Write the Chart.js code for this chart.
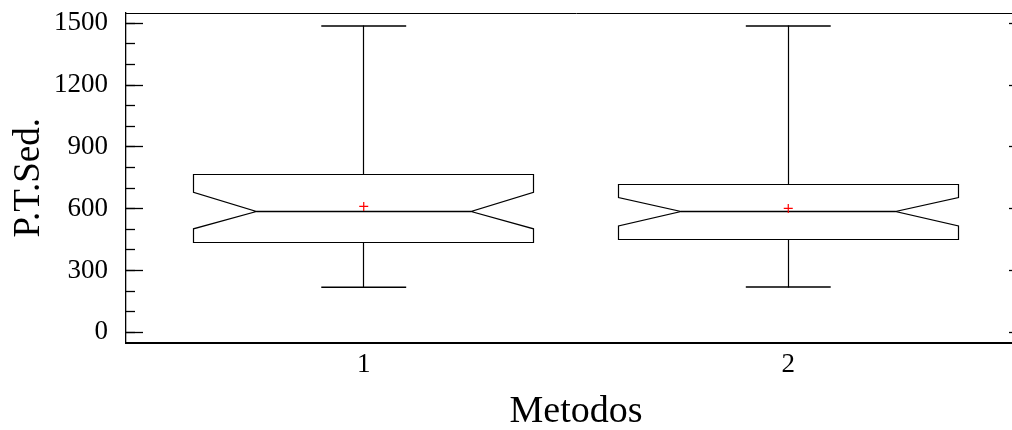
<!DOCTYPE html>
<html>
<head>
<meta charset="utf-8">
<script src="https://cdn.jsdelivr.net/npm/chart.js@4/dist/chart.umd.min.js"></script>
<style>
  html, body { margin: 0; padding: 0; background: #fff; overflow: hidden; width: 1012px; height: 430px; }
  canvas { display: block; }
</style>
</head>
<body>
<canvas id="c" width="1030" height="430"></canvas>
<script>
// ---- data ----
const categories   = ['1', '2'];
const whiskerLow   = [218, 219];
const q1           = [434, 452];
const notchLow     = [502, 516];
const median       = [588, 588];
const notchHigh    = [679, 654];
const q3           = [768, 716];
const whiskerHigh  = [1487, 1487];
const means        = [611, 601];
const yTicks       = [0, 300, 600, 900, 1200, 1500];
const yMinorTicks  = [0, 100, 200, 300, 400, 500, 600, 700, 800, 900, 1000, 1100, 1200, 1300, 1400, 1500];
const xTitle = 'Metodos';
const yTitle = 'P.T.Sed.';

const SERIF = "'Liberation Serif', 'DejaVu Serif', serif";
const Y_MIN = -50, Y_MAX = 1550;
const X_MIN = 0.44, X_MAX = 2.56;
const BOX_HALF = 0.4, NOTCH_HALF = 0.253, CAP_HALF = 0.1;

const al = v => Math.round(v - 0.5) + 0.5;

const notchedBoxPlugin = {
  id: 'notchedBoxes',
  beforeDatasetsDraw(chart) {
    const { ctx, scales: { x, y } } = chart;
    ctx.save();
    ctx.strokeStyle = '#000';
    ctx.lineJoin = 'miter';
    categories.forEach((cat, i) => {
      const c = i + 1;
      const X = v => x.getPixelForValue(v);
      const Y = v => y.getPixelForValue(v);
      const xl = al(X(c - BOX_HALF)), xr = al(X(c + BOX_HALF));
      const nl = X(c - NOTCH_HALF), nr = X(c + NOTCH_HALF);
      const xc = al(X(c));
      const yq3 = al(Y(q3[i])), yq1 = al(Y(q1[i]));
      const ynh = Y(notchHigh[i]), ynl = Y(notchLow[i]);
      const ym = al(Y(median[i]));
      // notched box
      ctx.lineWidth = 1.2;
      ctx.beginPath();
      ctx.moveTo(xl, yq3);
      ctx.lineTo(xr, yq3);
      ctx.lineTo(xr, ynh);
      ctx.lineTo(nr, ym);
      ctx.lineTo(xr, ynl);
      ctx.lineTo(xr, yq1);
      ctx.lineTo(xl, yq1);
      ctx.lineTo(xl, ynl);
      ctx.lineTo(nl, ym);
      ctx.lineTo(xl, ynh);
      ctx.closePath();
      ctx.stroke();
      // median
      ctx.beginPath();
      ctx.lineWidth = 1.5;
      ctx.moveTo(nl, ym);
      ctx.lineTo(nr, ym);
      ctx.stroke();
      // whiskers
      ctx.lineWidth = 1.2;
      ctx.beginPath();
      ctx.moveTo(xc, yq3);
      ctx.lineTo(xc, al(Y(whiskerHigh[i])));
      ctx.moveTo(xc, yq1);
      ctx.lineTo(xc, al(Y(whiskerLow[i])));
      ctx.stroke();
      // caps
      ctx.lineWidth = 1.5;
      ctx.beginPath();
      ctx.moveTo(X(c - CAP_HALF), Y(whiskerHigh[i]));
      ctx.lineTo(X(c + CAP_HALF), Y(whiskerHigh[i]));
      ctx.moveTo(X(c - CAP_HALF), Y(whiskerLow[i]));
      ctx.lineTo(X(c + CAP_HALF), Y(whiskerLow[i]));
      ctx.stroke();
    });
    ctx.restore();
  }
};

const setTicks = list => scale => { scale.ticks = list.map(v => ({ value: v })); };
const noPad = s => { s.paddingTop = 0; s.paddingBottom = 0; s.paddingLeft = 0; s.paddingRight = 0; };

new Chart(document.getElementById('c'), {
  type: 'scatter',
  data: {
    datasets: [{
      label: 'mean',
      data: categories.map((c, i) => ({ x: i + 1, y: means[i] })),
      pointStyle: 'cross',
      radius: 4.5,
      borderColor: '#ff0000',
      backgroundColor: '#ff0000',
      borderWidth: 1.2,
      xAxisID: 'x',
      yAxisID: 'y'
    }]
  },
  options: {
    responsive: false,
    animation: false,
    events: [],
    layout: { padding: 0, autoPadding: false },
    plugins: { legend: { display: false }, tooltip: { enabled: false } },
    scales: {
      x: {
        type: 'linear', position: 'bottom', min: X_MIN, max: X_MAX,
        afterBuildTicks: scale => { scale.ticks = categories.map((c, i) => ({ value: i + 1 })); },
        afterFit: s => { s.height = 87.5; noPad(s); },
        ticks: {
          callback: v => categories[v - 1],
          font: { family: SERIF, size: 27 }, color: '#000', padding: 6, maxRotation: 0, autoSkip: false
        },
        grid: { display: false, drawTicks: false },
        border: { display: true, color: '#000', width: 2 },
        title: { display: true, text: xTitle, font: { family: SERIF, size: 38, lineHeight: 0.9 }, color: '#000', padding: { top: 0, bottom: 1 } }
      },
      xTop: {
        type: 'linear', position: 'top', min: X_MIN, max: X_MAX,
        afterFit: s => { s.height = 13; noPad(s); },
        ticks: { display: false },
        grid: { display: false, drawTicks: false },
        border: { display: true, color: '#000', width: 1 }
      },
      y: {
        type: 'linear', position: 'left', min: Y_MIN, max: Y_MAX, weight: 1,
        afterBuildTicks: setTicks(yTicks),
        afterFit: s => { s.width = 126; noPad(s); },
        ticks: { callback: v => String(v), font: { family: SERIF, size: 27 }, color: '#000', padding: 35 },
        grid: { display: true, drawOnChartArea: false, drawTicks: true, tickLength: -17, color: '#000', tickColor: '#000', tickWidth: 1.3 },
        border: { display: true, color: '#000', width: 1.3 },
        title: { display: true, text: yTitle, font: { family: SERIF, size: 37 }, color: '#000', padding: { top: 7, bottom: 0 } }
      },
      yMinor: {
        type: 'linear', position: 'left', min: Y_MIN, max: Y_MAX, weight: 0,
        afterBuildTicks: setTicks(yMinorTicks),
        afterFit: s => { s.width = 0; noPad(s); },
        ticks: { display: false },
        grid: { display: true, drawOnChartArea: false, drawTicks: true, tickLength: -9, color: '#000', tickColor: '#000', tickWidth: 1.3 },
        border: { display: false }
      },
      yRight: {
        type: 'linear', position: 'right', min: Y_MIN, max: Y_MAX,
        afterBuildTicks: setTicks(yTicks),
        afterFit: s => { s.width = 4; noPad(s); },
        ticks: { display: false },
        grid: { display: true, drawOnChartArea: false, drawTicks: true, tickLength: -17, color: '#000', tickColor: '#000', tickWidth: 1.3 },
        border: { display: true, color: '#000', width: 1 }
      }
    }
  },
  plugins: [notchedBoxPlugin]
});
</script>
</body>
</html>
